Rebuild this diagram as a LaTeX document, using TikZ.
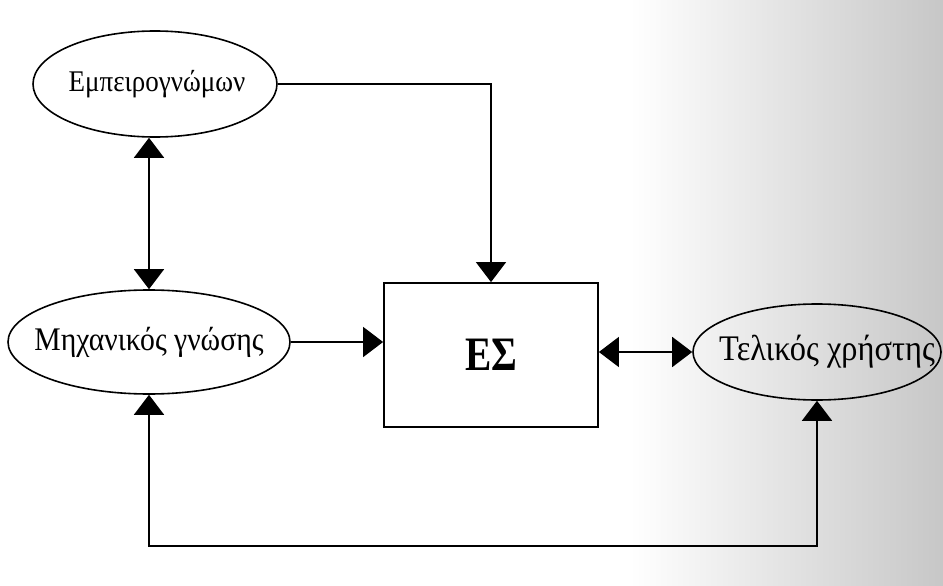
\documentclass[tikz,border=0pt]{standalone}
\usepackage{fontspec}
\setmainfont{Liberation Serif}
\newfontfamily\labelfont[FakeStretch=0.9]{Liberation Serif}
\newfontfamily\corefont[FakeStretch=0.82]{Liberation Serif}
\usetikzlibrary{shapes.geometric,arrows.meta}

\tikzset{
  actor/.style={draw, ellipse, line width=1.6pt, inner sep=0pt},
  actortext/.style={font=\labelfont\fontsize{33}{36}\selectfont, inner sep=0pt},
  core/.style={draw, rectangle, line width=1.8pt, inner sep=0pt,
    font=\corefont\fontsize{48}{52}\selectfont\bfseries},
  flow/.style={line width=1.6pt, -{Triangle[length=20pt,width=30pt]}},
  dflow/.style={line width=1.6pt, {Triangle[length=20pt,width=30pt]}-{Triangle[length=20pt,width=30pt]}},
}

\begin{document}
\begin{tikzpicture}[x=1pt, y=-1pt]
  % page area and the greyish scan tone towards the right edge
  \useasboundingbox (0,0) rectangle (943,586);
  \fill[white] (0,0) rectangle (943,586);
  \shade[left color=white, right color=black!22, draw=none] (630,0) rectangle (943,586);

  % participants: fixed-size ellipses, labels set on top
  \node[actor, minimum width=244pt, minimum height=106pt] (emp)  at (155,84)  {};
  \node[actor, minimum width=282pt, minimum height=104pt] (mech) at (149,342) {};
  \node[actor, minimum width=248pt, minimum height=96pt]  (user) at (817,352) {};
  \node[actortext, font=\labelfont\fontsize{30}{34}\selectfont] (empt) at ([xshift=2pt]emp.center) {Εμπειρογνώμων};
  \node[actortext] (mecht) at (mech.center) {Μηχανικός γνώσης};
  \node[actortext, font=\labelfont\fontsize{36}{40}\selectfont] (usert) at ([xshift=10pt]user.center) {Τελικός χρήστης};

  % expert system
  \node[core, minimum width=214pt, minimum height=144pt] (es) at (491,355) {ΕΣ};

  % connections
  \draw[dflow] (mech.north) -- (mech.north |- emp.south);
  \draw[flow] (emp.east) -- (emp.east -| es.north) -- (es.north);
  \draw[flow] (mech.east) -- (mech.east -| es.west);
  \draw[dflow] (es.east |- user.west) -- (user.west);
  \coordinate (bot) at (0,546);
  \draw[dflow] (mech.south) -- (mech.south |- bot) -| (user.south);
\end{tikzpicture}
\end{document}
